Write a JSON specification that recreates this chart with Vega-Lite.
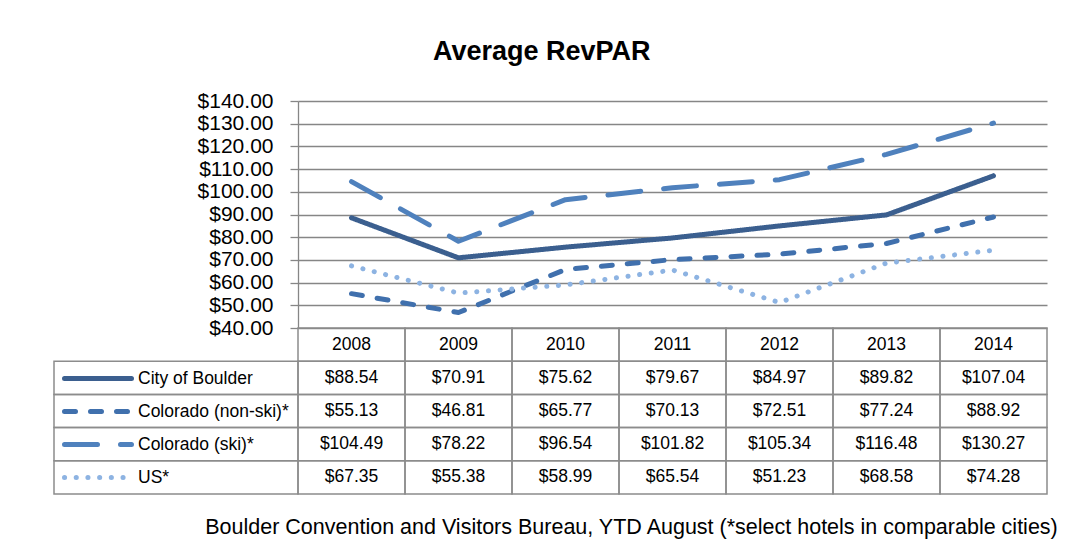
{
  "$schema": "https://vega.github.io/schema/vega-lite/v6.json",
  "padding": {"left": 53, "top": 38, "right": 0, "bottom": 0},
  "background": "white",
  "title": {"text": "Average RevPAR", "font": "Liberation Sans", "fontSize": 27, "fontWeight": "bold", "color": "#000000", "anchor": "start", "frame": "group", "offset": 24, "dx": 379},
  "datasets": {
    "revpar": [
      {"series": "City of Boulder", "year": "2008", "value": 88.54},
      {"series": "City of Boulder", "year": "2009", "value": 70.91},
      {"series": "City of Boulder", "year": "2010", "value": 75.62},
      {"series": "City of Boulder", "year": "2011", "value": 79.67},
      {"series": "City of Boulder", "year": "2012", "value": 84.97},
      {"series": "City of Boulder", "year": "2013", "value": 89.82},
      {"series": "City of Boulder", "year": "2014", "value": 107.04},
      {"series": "Colorado (non-ski)*", "year": "2008", "value": 55.13},
      {"series": "Colorado (non-ski)*", "year": "2009", "value": 46.81},
      {"series": "Colorado (non-ski)*", "year": "2010", "value": 65.77},
      {"series": "Colorado (non-ski)*", "year": "2011", "value": 70.13},
      {"series": "Colorado (non-ski)*", "year": "2012", "value": 72.51},
      {"series": "Colorado (non-ski)*", "year": "2013", "value": 77.24},
      {"series": "Colorado (non-ski)*", "year": "2014", "value": 88.92},
      {"series": "Colorado (ski)*", "year": "2008", "value": 104.49},
      {"series": "Colorado (ski)*", "year": "2009", "value": 78.22},
      {"series": "Colorado (ski)*", "year": "2010", "value": 96.54},
      {"series": "Colorado (ski)*", "year": "2011", "value": 101.82},
      {"series": "Colorado (ski)*", "year": "2012", "value": 105.34},
      {"series": "Colorado (ski)*", "year": "2013", "value": 116.48},
      {"series": "Colorado (ski)*", "year": "2014", "value": 130.27},
      {"series": "US*", "year": "2008", "value": 67.35},
      {"series": "US*", "year": "2009", "value": 55.38},
      {"series": "US*", "year": "2010", "value": 58.99},
      {"series": "US*", "year": "2011", "value": 65.54},
      {"series": "US*", "year": "2012", "value": 51.23},
      {"series": "US*", "year": "2013", "value": 68.58},
      {"series": "US*", "year": "2014", "value": 74.28}
    ]
  },
  "columns": 2,
  "spacing": 0,
  "bounds": "flush",
  "align": "each",
  "concat": [
    {
      "width": 244, "height": 227,
      "data": {"values": []},
      "mark": "point"
    },
    {
      "width": 749, "height": 227,
      "data": {"name": "revpar"},
      "mark": {"type": "line", "strokeWidth": 5, "strokeCap": "round", "strokeJoin": "round"},
      "encoding": {
        "x": {"field": "year", "type": "ordinal", "scale": {"type": "point", "padding": 0.5}, "axis": null},
        "y": {
          "field": "value", "type": "quantitative",
          "scale": {"domain": [40, 140], "nice": false, "zero": false},
          "axis": {
            "values": [40, 50, 60, 70, 80, 90, 100, 110, 120, 130, 140],
            "format": "$.2f", "title": null,
            "grid": true, "gridColor": "#868686", "gridWidth": 1.3, "gridOpacity": 1,
            "domain": true, "domainColor": "#868686", "domainWidth": 1.3,
            "ticks": true, "tickColor": "#868686", "tickWidth": 1.3, "tickSize": 8,
            "labelPadding": 17, "labelFont": "Liberation Sans", "labelFontSize": 21, "labelColor": "#000000",
            "labelOverlap": false, "labelBound": false, "labelFlush": false
          }
        },
        "color": {
          "field": "series", "type": "nominal",
          "scale": {"domain": ["City of Boulder", "Colorado (non-ski)*", "Colorado (ski)*", "US*"], "range": ["#3b5f8f", "#4070ad", "#4f81bd", "#8db3e2"]},
          "legend": {
            "orient": "none", "legendX": 8, "legendY": 261, "title": null,
            "symbolType": "stroke", "symbolSize": 4489, "symbolStrokeWidth": 5,
            "clipHeight": 33, "rowPadding": 0, "padding": 0,
            "labelFont": "Liberation Sans", "labelFontSize": 17.5, "labelColor": "#000000", "labelOffset": 4, "labelLimit": 400,
            "symbolOpacity": 1,
            "encode": {"symbols": {"update": {"strokeCap": {"value": "round"}}}}
          }
        },
        "strokeDash": {
          "field": "series", "type": "nominal",
          "scale": {"domain": ["City of Boulder", "Colorado (non-ski)*", "Colorado (ski)*", "US*"], "range": [[1, 0], [11, 15], [33, 23], [0.1, 11.6]]}
        }
      }
    },
    {
      "width": 244, "height": 166,
      "data": {"name": "revpar"},
      "transform": [{"filter": "datum.year == '2008'"}],
      "mark": {"type": "rect", "fill": null, "stroke": "#8c8c8c", "strokeWidth": 1.5},
      "encoding": {
        "y": {"field": "series", "type": "nominal", "scale": {"domain": ["Year", "City of Boulder", "Colorado (non-ski)*", "Colorado (ski)*", "US*"], "paddingInner": 0, "paddingOuter": 0}, "axis": null}
      }
    },
    {
      "width": 749, "height": 166,
      "data": {"name": "revpar"},
      "title": {"text": "Boulder Convention and Visitors Bureau, YTD August (*select hotels in comparable cities)", "orient": "bottom", "anchor": "end", "offset": 22, "dx": 10, "font": "Liberation Sans", "fontSize": 21.5, "fontWeight": "normal", "color": "#000000"},
      "encoding": {
        "x": {"field": "year", "type": "ordinal", "scale": {"type": "band", "paddingInner": 0, "paddingOuter": 0}, "axis": null}
      },
      "layer": [
        {
          "mark": {"type": "rect", "fill": null, "stroke": "#8c8c8c", "strokeWidth": 1.5},
          "encoding": {"y": {"field": "series", "type": "nominal", "scale": {"domain": ["Year", "City of Boulder", "Colorado (non-ski)*", "Colorado (ski)*", "US*"], "paddingInner": 0, "paddingOuter": 0}, "axis": null}}
        },
        {
          "transform": [{"filter": "datum.series == 'City of Boulder'"}],
          "mark": {"type": "rect", "fill": null, "stroke": "#8c8c8c", "strokeWidth": 1.5},
          "encoding": {"y": {"datum": "Year", "type": "nominal"}}
        },
        {
          "mark": {"type": "text", "font": "Liberation Sans", "fontSize": 17.5, "color": "#000000", "baseline": "middle", "align": "center"},
          "encoding": {
            "y": {"field": "series", "type": "nominal"},
            "text": {"field": "value", "type": "quantitative", "format": "$.2f"}
          }
        },
        {
          "transform": [{"filter": "datum.series == 'City of Boulder'"}],
          "mark": {"type": "text", "font": "Liberation Sans", "fontSize": 17.5, "color": "#000000", "baseline": "middle", "align": "center"},
          "encoding": {
            "y": {"datum": "Year", "type": "nominal"},
            "text": {"field": "year", "type": "nominal"}
          }
        }
      ]
    }
  ],
  "resolve": {"scale": {"x": "independent", "y": "independent"}},
  "config": {"view": {"stroke": null}}
}
